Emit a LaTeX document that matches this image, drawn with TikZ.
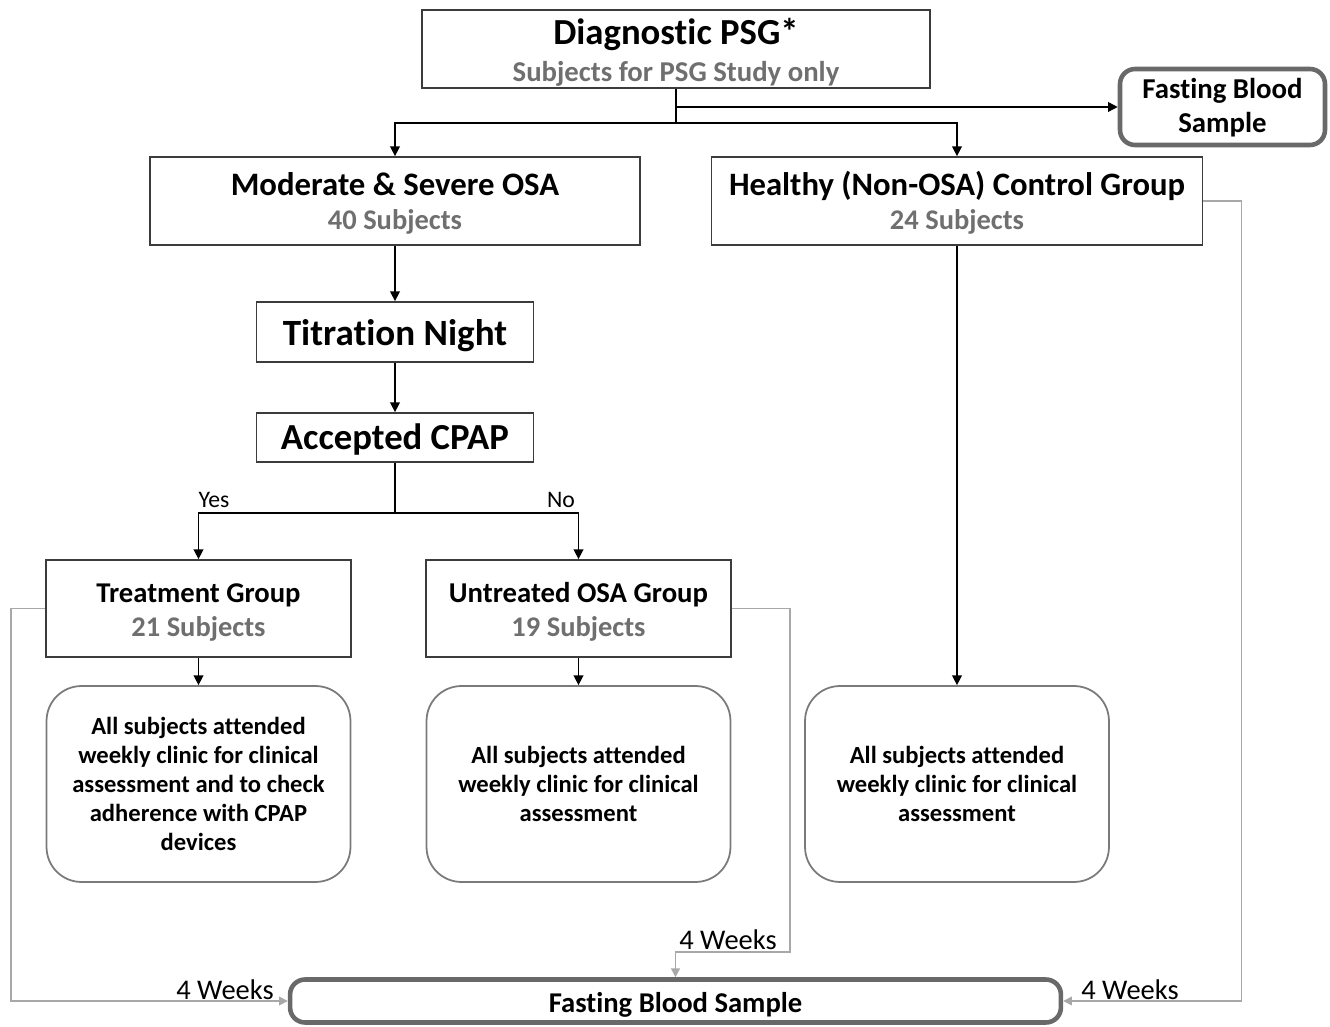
\documentclass[tikz,border=0pt]{standalone}
\usepackage{fontspec}
\setmainfont{Carlito}[Ligatures={NoCommon}]
\usetikzlibrary{arrows.meta}
\definecolor{boxline}{HTML}{3C3C3C}
\definecolor{subgray}{HTML}{6F6F6F}
\definecolor{linkgray}{HTML}{A8A8A8}
\definecolor{thickgray}{HTML}{696969}
\definecolor{roundline}{HTML}{7A7A7A}
\begin{document}
\begin{tikzpicture}[x=0.02cm, y=-0.02cm,
  sqbox/.style={draw=boxline, line width=1pt, fill=white, inner sep=0pt, align=center, font=\bfseries, text depth=0pt},
  rbox/.style={draw=roundline, line width=1pt, rounded corners=0.7cm, inner sep=0pt, align=center,
    font=\bfseries\fontsize{14}{16.4}\selectfont, minimum width=6.08cm, minimum height=3.92cm},
  thickbox/.style={draw=thickgray, line width=2.6pt, rounded corners=0.3cm, inner sep=0pt, align=center, text depth=0pt},
  arr/.style={draw=black, line width=0.8pt, -{Triangle[length=5.5pt,width=5.5pt]}},
  garr/.style={draw=linkgray, line width=0.9pt, -{Triangle[length=5pt,width=5pt]}},
  wk/.style={font=\fontsize{16.2}{17}\selectfont, inner sep=0pt},
  yn/.style={font=\fontsize{13.5}{14}\selectfont, inner sep=0pt}]
\useasboundingbox (0,0) rectangle (1330,1027);

% boxes
\node[sqbox, minimum width=10.16cm, minimum height=1.56cm, text height=37.4pt,
      font=\bfseries\fontsize{20.9}{21.3}\selectfont] (psg) at (676,49)
  {Diagnostic PSG*\\
   \fontsize{16.35}{21.3}\selectfont\color{subgray}Subjects for PSG Study only};
\node[thickbox, minimum width=4.1cm, minimum height=1.52cm, text height=29.6pt,
      font=\bfseries\fontsize{16.4}{19.5}\selectfont] (fbs1) at (1222.5,107)
  {Fasting Blood\\Sample};
\node[sqbox, minimum width=9.8cm, minimum height=1.76cm, text height=32.6pt,
      font=\bfseries\fontsize{18.65}{19.3}\selectfont] (mod) at (395,201)
  {Moderate \& Severe OSA\\
   \fontsize{16.2}{19.3}\selectfont\color{subgray}40 Subjects};
\node[sqbox, minimum width=9.82cm, minimum height=1.76cm, text height=32.6pt,
      font=\bfseries\fontsize{18.6}{19.3}\selectfont] (hea) at (957,201)
  {Healthy (Non-OSA) Control Group\\
   \fontsize{16.2}{19.3}\selectfont\color{subgray}24 Subjects};
\node[sqbox, minimum width=5.54cm, minimum height=1.2cm, text height=15.9pt,
      font=\bfseries\fontsize{21.1}{22}\selectfont] (tit) at (395,332)
  {Titration Night};
\node[sqbox, minimum width=5.54cm, minimum height=0.98cm, text height=14.2pt,
      font=\bfseries\fontsize{20.9}{21}\selectfont] (acc) at (395,437.5)
  {Accepted CPAP};
\node[sqbox, minimum width=6.1cm, minimum height=1.94cm, text height=31.5pt,
      font=\bfseries\fontsize{16.3}{18.9}\selectfont] (trt) at (198.5,608.5)
  {Treatment Group\\
   \fontsize{16.2}{18.9}\selectfont\color{subgray}21 Subjects};
\node[sqbox, minimum width=6.1cm, minimum height=1.94cm, text height=31.5pt,
      font=\bfseries\fontsize{16.35}{18.9}\selectfont] (unt) at (578.5,608.5)
  {Untreated OSA Group\\
   \fontsize{16.2}{18.9}\selectfont\color{subgray}19 Subjects};
\node[rbox] (rb1) at (198.5,784)
  {All subjects attended\\weekly clinic for clinical\\assessment and to check\\adherence with CPAP\\devices};
\node[rbox] (rb2) at (578.5,784)
  {All subjects attended\\weekly clinic for clinical\\assessment};
\node[rbox] (rb3) at (957,784)
  {All subjects attended\\weekly clinic for clinical\\assessment};
\node[thickbox, minimum width=15.42cm, minimum height=0.86cm, text height=13.6pt,
      font=\bfseries\fontsize{16.3}{18}\selectfont] (fbs2) at (675.5,1001)
  {Fasting Blood Sample};

% labels
\node[yn] (yes) at (214,500) {Yes};
\node[yn] (no) at (561,500) {No};
\node[wk] (w1) at (225,990) {4 Weeks};
\node[wk] (w2) at (728,940) {4 Weeks};
\node[wk] (w3) at (1130,990) {4 Weeks};

% black connectors
\draw[arr] (psg.south) -- ++(0,34) -| (mod.north);
\draw[arr] (psg.south) -- ++(0,34) -| (hea.north);
\draw[arr] (psg.south |- fbs1.west) -- (fbs1.west);
\draw[arr] (mod) -- (tit);
\draw[arr] (tit) -- (acc);
\draw[arr] (acc.south) -- ++(0,50) -| (trt.north);
\draw[arr] (acc.south) -- ++(0,50) -| (unt.north);
\draw[arr] (trt) -- (rb1);
\draw[arr] (unt) -- (rb2);
\draw[arr] (hea) -- (rb3);

% gray connectors
\coordinate (lvl) at (0,952);
\draw[garr] (trt.west) -- ++(-34,0) |- (fbs2.west);
\draw[garr] (unt.east) -- ++(58,0) coordinate (u1) -- (u1 |- lvl) -| (fbs2.north);
\draw[garr] (hea.east) -- ++(38,0) |- (fbs2.east);
\end{tikzpicture}
\end{document}
